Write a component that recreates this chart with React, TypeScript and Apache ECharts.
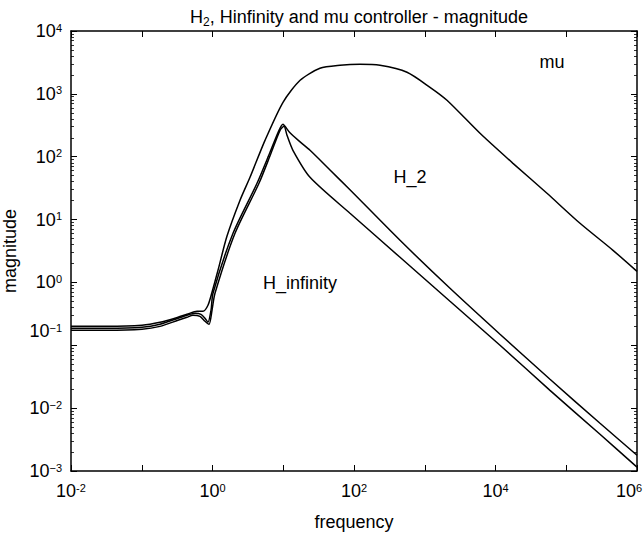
import React, { useEffect, useRef } from "react";
import * as echarts from "echarts";

const FONT = "'Liberation Sans', Arial, Helvetica, sans-serif";

// [frequency, magnitude]
const muCurve: [number, number][] = [
  [0.01, 0.2], [0.0323, 0.2], [0.1008, 0.208], [0.181, 0.232], [0.325, 0.279],
  [0.436, 0.311], [0.604, 0.347], [0.734, 0.347], [0.863, 0.433], [0.984, 0.697],
  [1.196, 1.56], [1.6, 5.42], [2.45, 20.3], [3.39, 47.1], [5.52, 182],
  [9.92, 735], [17.3, 1645], [33.0, 2550], [63.4, 2845], [121.6, 2954],
  [233, 2845], [561, 2205], [1186, 1271], [2061, 791], [6039, 236],
  [17660, 78.5], [53400, 26.2], [156400, 8.73], [458000, 3.24], [1e6, 1.5],
];

const h2Curve: [number, number][] = [
  [0.01, 0.186], [0.0323, 0.186], [0.1008, 0.193], [0.181, 0.216], [0.325, 0.269],
  [0.436, 0.3], [0.566, 0.323], [0.687, 0.311], [0.784, 0.269], [0.863, 0.232],
  [0.953, 0.36], [1.016, 0.672], [1.95, 6.05], [4.26, 37.8], [6.5, 117.6],
  [8.71, 263], [9.92, 328], [10.59, 305], [12.45, 240], [17.3, 172],
  [23.9, 126.5], [45.8, 61.5], [87.7, 29.8], [447, 4.68], [2274, 0.807],
  [11580, 0.15], [58900, 0.0288], [300000, 0.00574], [1e6, 0.00178],
];

const hinfCurve: [number, number][] = [
  [0.01, 0.173], [0.0323, 0.173], [0.1008, 0.18], [0.181, 0.2], [0.325, 0.25],
  [0.436, 0.279], [0.53, 0.3], [0.665, 0.289], [0.784, 0.241], [0.893, 0.216],
  [0.984, 0.36], [1.084, 0.672], [2.08, 6.05], [4.54, 37.8], [6.71, 113.5],
  [9.0, 263], [10.25, 305], [11.3, 219], [13.7, 126.5], [23.9, 47.1],
  [87.7, 12.6], [447, 2.51], [2274, 0.501], [11580, 0.1], [58900, 0.0192],
  [300000, 0.00384], [1e6, 0.00115],
];

const xRange = [0.01, 1e6];
const yRange = [0.001, 1e4];
const xDecades = 8;
const yDecades = 7;

const titleMain = "H";
const titleSub = "2";
const titleRest = ", Hinfinity and mu controller - magnitude";
const xName = "frequency";
const yName = "magnitude";
const curveNames = ["mu", "H_2", "H_infinity"];

function expText(v: number, minus: string) {
  const e = Math.round(Math.log10(v));
  return e < 0 ? minus + String(-e) : String(e);
}

const rich = {
  b: { fontSize: 18, fontFamily: FONT, color: "#000", lineHeight: 18, verticalAlign: "bottom" },
  s: { fontSize: 11, fontFamily: FONT, color: "#000", lineHeight: 10, verticalAlign: "top" },
  gap: { fontSize: 11, width: 16 },
  lift: { fontSize: 11, lineHeight: 28 },
};

export default function App() {
  const ref = useRef<HTMLDivElement>(null);
  useEffect(() => {
    if (!ref.current) return;
    const chart = echarts.init(ref.current, null, { renderer: "svg" });
    const lineCommon = { color: "#000", width: 1.5 };
    const tickCommon = { show: true, inside: true, length: 6, lineStyle: { color: "#000", width: 1 } };
    const minorCommon = { show: true, splitNumber: 9, length: 3, lineStyle: { color: "#000", width: 0.8 } };
    const mkSeries = (name: string, data: [number, number][]) => ({
      name,
      type: "line",
      data,
      xAxisIndex: 0,
      yAxisIndex: 0,
      showSymbol: false,
      symbol: "none",
      smooth: 0.25,
      lineStyle: { color: "#000", width: 1.5 },
      silent: true,
    });
    const textStyleCommon = { fontSize: 18, fontFamily: FONT, fill: "#000", textAlign: "center", textVerticalAlign: "middle" };
    chart.setOption({
      animation: false,
      backgroundColor: "#fff",
      title: {
        text: `{a|${titleMain}}{sub|${titleSub}}{a|${titleRest}}`,
        left: 354,
        textAlign: "center",
        top: 3,
        textStyle: {
          fontWeight: "normal",
          rich: {
            a: { fontSize: 18, fontFamily: FONT, fontWeight: "normal", color: "#000", lineHeight: 20, verticalAlign: "top" },
            sub: { fontSize: 12, fontFamily: FONT, fontWeight: "normal", color: "#000", lineHeight: 20, verticalAlign: "bottom" },
          },
        },
      },
      grid: { left: 71, right: 6, top: 31, bottom: 64, containLabel: false, outerBoundsMode: "none" },
      xAxis: [
        {
          type: "log",
          logBase: 10,
          min: xRange[0],
          max: xRange[1],
          splitNumber: xDecades,
          position: "bottom",
          axisLine: { show: true, onZero: false, lineStyle: lineCommon },
          axisTick: tickCommon,
          splitLine: { show: false },
          axisLabel: {
            margin: 11,
            formatter: (v: number) => {
              const e = Math.round(Math.log10(v));
              if (e % 2 !== 0) return "";
              const base = `{b|10}{s|${expText(v, "-")}}`;
              return v >= xRange[1] * 0.999 ? base + "{gap| }" : base;
            },
            rich,
          },
          name: xName,
          nameLocation: "middle",
          nameGap: 42,
          nameTextStyle: { fontSize: 18, fontFamily: FONT, color: "#000" },
        },
        {
          type: "log",
          logBase: 10,
          min: xRange[0],
          max: xRange[1],
          splitNumber: xDecades,
          position: "top",
          axisLine: { show: true, onZero: false, lineStyle: lineCommon },
          axisTick: tickCommon,
          splitLine: { show: false },
          axisLabel: { show: false },
        },
      ],
      yAxis: [
        {
          type: "log",
          logBase: 10,
          min: yRange[0],
          max: yRange[1],
          splitNumber: yDecades,
          position: "left",
          axisLine: { show: true, onZero: false, lineStyle: lineCommon },
          axisTick: tickCommon,
          minorTick: minorCommon,
          splitLine: { show: false },
          axisLabel: {
            margin: 9,
            formatter: (v: number) => {
              const e = Math.round(Math.log10(v));
              const base = `{b|10}{s|${expText(v, "\u2212")}}`;
              // the reference prints its 10^-1 label a little above the tick
              return e === -1 ? base + "\n{lift| }" : base;
            },
            rich,
          },
          name: yName,
          nameLocation: "middle",
          nameGap: 44,
          nameTextStyle: { fontSize: 18, fontFamily: FONT, color: "#000" },
        },
        {
          type: "log",
          logBase: 10,
          min: yRange[0],
          max: yRange[1],
          splitNumber: yDecades,
          position: "right",
          axisLine: { show: true, onZero: false, lineStyle: lineCommon },
          axisTick: tickCommon,
          minorTick: minorCommon,
          splitLine: { show: false },
          axisLabel: { show: false },
        },
      ],
      series: [
        mkSeries(curveNames[0], muCurve),
        mkSeries(curveNames[1], h2Curve),
        mkSeries(curveNames[2], hinfCurve),
      ],
      graphic: [
        { type: "text", x: 552, y: 62, style: { ...textStyleCommon, text: curveNames[0] } },
        { type: "text", x: 410, y: 177, style: { ...textStyleCommon, text: curveNames[1] } },
        { type: "text", x: 300, y: 283, style: { ...textStyleCommon, text: curveNames[2] } },
      ],
    });
    return () => chart.dispose();
  }, []);
  return (
    <div
      ref={ref}
      style={{ position: "fixed", left: 0, top: 0, width: 643, height: 535, background: "#fff" }}
    />
  );
}
